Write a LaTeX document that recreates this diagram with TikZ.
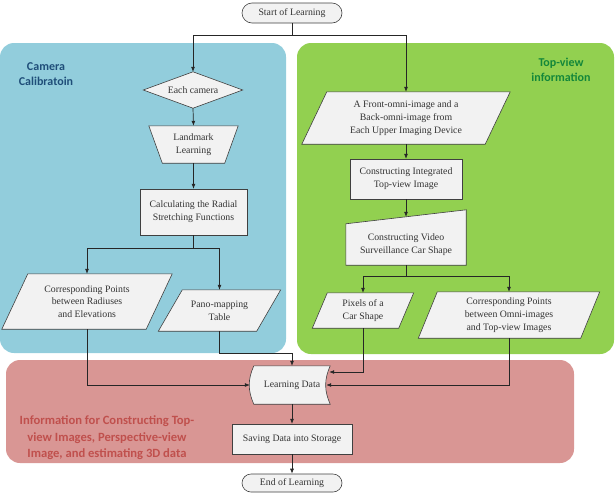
\documentclass[tikz,border=0pt]{standalone}
\usepackage{fontspec}
\setmainfont{Liberation Serif}
\newfontfamily\bodyfont{Liberation Serif}
\newfontfamily\hfont{Carlito}
\usetikzlibrary{shapes.misc,arrows.meta}
\definecolor{bluebg}{HTML}{92CDDC}
\definecolor{greenbg}{HTML}{92D050}
\definecolor{redbg}{HTML}{D99694}
\definecolor{boxfill}{HTML}{F2F2F2}
\definecolor{boxline}{HTML}{404040}
\definecolor{bluetxt}{HTML}{1F4E79}
\definecolor{greentxt}{HTML}{13873A}
\definecolor{redtxt}{HTML}{C0504D}
\tikzset{
  region/.style={rounded corners=14pt, draw=none},
  txt/.style={draw=none, align=center, font=\bodyfont\fontsize{9.8}{12.8}\selectfont, text=black!80, inner sep=0pt},
  shp/.style={draw=boxline, fill=boxfill, line width=0.6pt, line join=miter},
  term/.style={rounded rectangle, draw=boxline, fill=boxfill, line width=0.6pt, align=center,
    font=\bodyfont\fontsize{9.8}{12.8}\selectfont, text=black!80, inner sep=0pt},
  arr/.style={draw=black!85, line width=0.7pt, -{Latex[length=5pt,width=4pt]}},
  heading/.style={font=\hfont\bfseries\fontsize{12}{15.5}\selectfont, align=center}
}
\begin{document}
\begin{tikzpicture}[x=1pt,y=-1pt]
\useasboundingbox (0,0) rectangle (615,493);
% regions
\fill[bluebg, region] (0,43) rectangle (286,353);
\fill[greenbg, region] (297,43) rectangle (614,354);
\fill[redbg, region] (6,360) rectangle (574,463);
\node[heading, text=bluetxt] (hcam) at (46,74) {Camera\\Calibratoin};
\node[heading, text=greentxt] (htop) at (561,70) {Top-view\\information};
\node[heading, text=redtxt, font=\hfont\bfseries\fontsize{12.6}{16.5}\selectfont] (hinfo) at (107,438)
  {Information for Constructing Top-\\view Images, Perspective-view\\Image, and estimating 3D data};

% terminals
\node[term, minimum width=100pt, minimum height=20pt] (start) at (292,13) {Start of Learning};
\node[term, minimum width=100pt, minimum height=18pt] (end) at (292,483) {End of Learning};

% Each camera (diamond)
\node[txt, minimum width=99pt, minimum height=36pt] (ec) at (193,90) {};
\draw[shp] (ec.north) -- (ec.east) -- (ec.south) -- (ec.west) -- cycle;
\node[txt] at (ec) {Each camera};

% Landmark learning (trapezoid)
\node[txt, minimum width=89pt, minimum height=37pt] (lm) at (193.5,144.5) {};
\draw[shp] (lm.north west) -- (lm.north east) -- ([xshift=-13.5pt]lm.south east) -- ([xshift=13.5pt]lm.south west) -- cycle;
\node[txt] at (lm) {Landmark\\Learning};

% Calculating box
\node[txt, minimum width=107pt, minimum height=46pt] (calc) at (193.5,212) {};
\draw[shp] (calc.north west) rectangle (calc.south east);
\node[txt] at (calc) {Calculating the Radial\\Stretching Functions};

% Corresponding points 1
\node[txt, minimum width=144pt, minimum height=55pt] (cpa) at (87,301.5) {};
\draw[shp] ([xshift=13pt]cpa.north west) -- ([xshift=13pt]cpa.north east) -- ([xshift=-13pt]cpa.south east) -- ([xshift=-13pt]cpa.south west) -- cycle;
\node[txt] at (cpa) {Corresponding Points\\between Radiuses\\and Elevations};

% Pano-mapping table
\node[txt, minimum width=98pt, minimum height=41pt] (pano) at (219.5,310.5) {};
\draw[shp] ([xshift=12pt]pano.north west) -- ([xshift=12pt]pano.north east) -- ([xshift=-12pt]pano.south east) -- ([xshift=-12pt]pano.south west) -- cycle;
\node[txt] at (pano) {Pano-mapping\\Table};

% Front omni image
\node[txt, minimum width=183pt, minimum height=52pt] (fr) at (406,118) {};
\draw[shp] ([xshift=12.5pt]fr.north west) -- ([xshift=12.5pt]fr.north east) -- ([xshift=-12.5pt]fr.south east) -- ([xshift=-12.5pt]fr.south west) -- cycle;
\node[txt] at (fr) {A Front-omni-image and a\\Back-omni-image from\\Each Upper Imaging Device};

% Constructing integrated
\node[txt, minimum width=112pt, minimum height=40pt] (ci) at (406,179) {};
\draw[shp] (ci.north west) rectangle (ci.south east);
\node[txt] at (ci) {Constructing Integrated\\Top-view Image};

% Video surveillance (manual input)
\node[txt, minimum width=120pt, minimum height=41pt] (vs) at (406,244.5) {};
\draw[shp] (vs.north west) -- ([yshift=14pt]vs.north east) -- (vs.south east) -- (vs.south west) -- cycle;
\node[txt] at (vs) {Constructing Video\\Surveillance Car Shape};
\coordinate (vstop) at ([yshift=7pt]vs.north);

% Pixels of a car shape
\node[txt, minimum width=86pt, minimum height=35pt] (px) at (363,310.5) {};
\draw[shp] ([xshift=7.5pt]px.north west) -- ([xshift=7.5pt]px.north east) -- ([xshift=-7.5pt]px.south east) -- ([xshift=-7.5pt]px.south west) -- cycle;
\node[txt] at (px) {Pixels of a\\Car Shape};

% Corresponding points 2
\node[txt, minimum width=162pt, minimum height=46pt] (cpb) at (509,315) {};
\draw[shp] ([xshift=9.5pt]cpb.north west) -- ([xshift=9.5pt]cpb.north east) -- ([xshift=-9.5pt]cpb.south east) -- ([xshift=-9.5pt]cpb.south west) -- cycle;
\node[txt] at (cpb) {Corresponding Points\\between Omni-images\\and Top-view Images};

% Learning data (stored data)
\node[txt, minimum width=76pt, minimum height=38pt] (ld) at (292,385) {};
\draw[shp] (ld.north west) -- (ld.north east) to[bend right=24] (ld.south east) -- (ld.south west) to[bend left=24] (ld.north west) -- cycle;
\node[txt] at (ld) {Learning Data};
\coordinate (ldw) at ([xshift=-4pt]ld.west);
\coordinate (lde) at ([xshift=-4pt]ld.east);
\coordinate (ldne) at ([xshift=-1pt,yshift=13pt]ld.east);

% Saving
\node[txt, minimum width=120pt, minimum height=30pt] (save) at (292,439) {};
\draw[shp] (save.north west) rectangle (save.south east);
\node[txt] at (save) {Saving Data into Storage};

% connectors
\draw[arr] (start.south) -- ++(0,12) -| (ec.north);
\draw[arr] (start.south) -- ++(0,12) -| (fr.north);
\draw[arr] (ec.south) -- (lm.north);
\draw[arr] (lm.south) -- (calc.north);
\draw[arr] (calc.south) -- ++(0,13) -| (cpa.north);
\draw[arr] (calc.south) -- ++(0,13) -| (pano.north);
\draw[arr] (fr.south) -- (ci.north);
\draw[arr] (ci.south) -- (vstop);
\draw[arr] (vs.south) -- ++(0,11) -| (px.north);
\draw[arr] (vs.south) -- ++(0,11) -| (cpb.north);
\draw[arr] (cpa.south) |- (ldw);
\draw[arr] (pano.south) -- ++(0,22) -| (ld.north);
\draw[arr] (px.south) |- (ldne);
\draw[arr] (cpb.south) |- (lde);
\draw[arr] (ld.south) -- (save.north);
\draw[arr] (save.south) -- (end.north);
\end{tikzpicture}
\end{document}
